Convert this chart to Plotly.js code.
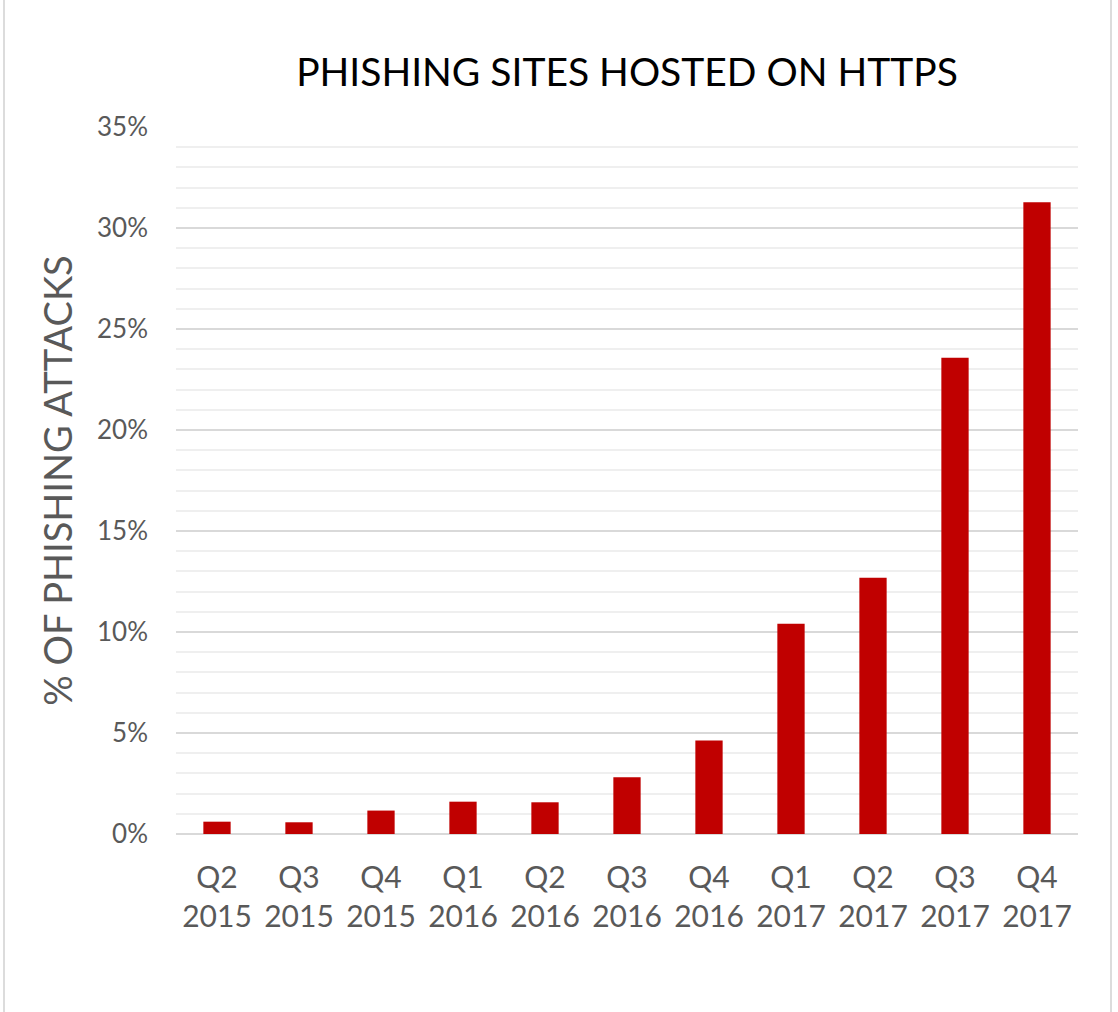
<!DOCTYPE html>
<html>
<head>
<meta charset="utf-8">
<script src="https://cdn.plot.ly/plotly-3.0.1.min.js"></script>
<style>
  html, body { margin: 0; padding: 0; background: #ffffff; }
  #wrap { position: relative; width: 1118px; height: 1012px; }
  #chart { position: absolute; left: 0; top: 0; width: 1118px; height: 1012px; }
  .edge { position: absolute; top: 0; width: 2px; height: 1012px; background: #dcdcdc; }
</style>
</head>
<body>
<div id="wrap">
  <div id="chart"></div>
  <div class="edge" style="left:3px"></div>
  <div class="edge" style="left:1110px"></div>
</div>
<script>
const quarters = ["Q2<br>2015", "Q3<br>2015", "Q4<br>2015", "Q1<br>2016", "Q2<br>2016", "Q3<br>2016",
                  "Q4<br>2016", "Q1<br>2017", "Q2<br>2017", "Q3<br>2017", "Q4<br>2017"];
const httpsShare = [0.61, 0.58, 1.16, 1.60, 1.57, 2.81, 4.63, 10.41, 12.68, 23.58, 31.27];
const yTickVals = [0, 5, 10, 15, 20, 25, 30, 35];
const yTickText = ["0%", "5%", "10%", "15%", "20%", "25%", "30%", "35%"];

const FONT = "Lato, Calibri, 'Open Sans', sans-serif";
const GREY = "#595959";

const trace = {
  type: "bar",
  x: quarters,
  y: httpsShare,
  marker: { color: "#c00000" },
  hoverinfo: "x+y"
};

const layout = {
  width: 1118,
  height: 1012,
  margin: { l: 176, r: 40, t: 127, b: 178 },
  paper_bgcolor: "#ffffff",
  plot_bgcolor: "#ffffff",
  showlegend: false,
  bargap: 0.667,
  title: {
    text: "PHISHING SITES HOSTED ON HTTPS",
    font: { family: FONT, size: 39, color: "#000000" },
    x: 0.5, xref: "paper", xanchor: "center",
    y: 940, yref: "container", yanchor: "middle"
  },
  xaxis: {
    type: "category",
    showgrid: false,
    zeroline: false,
    showline: false,
    ticks: "",
    ticklabelstandoff: 23,
    tickfont: { family: FONT, size: 30, color: GREY },
    automargin: false
  },
  yaxis: {
    range: [0, 35],
    tickvals: yTickVals,
    ticktext: yTickText,
    showgrid: true,
    gridcolor: "#d9d9d9",
    gridwidth: 2,
    minor: { dtick: 1, showgrid: true, gridcolor: "#efefef", gridwidth: 2, ticks: "" },
    zeroline: true,
    zerolinecolor: "#d9d9d9",
    zerolinewidth: 2,
    showline: false,
    ticks: "",
    ticklabelstandoff: 27,
    tickfont: { family: FONT, size: 26, color: GREY },
    automargin: false,
    title: {
      text: "% OF PHISHING ATTACKS",
      font: { family: FONT, size: 38, color: GREY },
      standoff: 12
    }
  }
};
// title y in container fraction: 1 - 72/1012
layout.title.y = 1 - 72 / 1012;

Plotly.newPlot("chart", [trace], layout, { staticPlot: true, displayModeBar: false });
</script>
</body>
</html>
